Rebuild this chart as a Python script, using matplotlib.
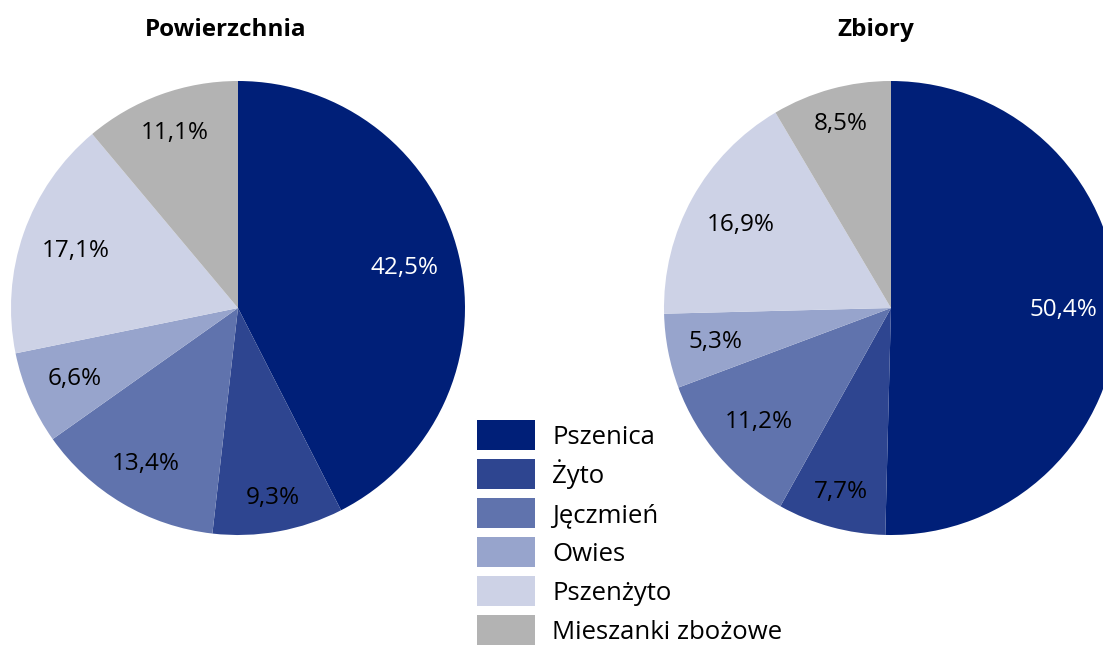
import numpy as np
import matplotlib
matplotlib.use('Agg')
from matplotlib import pyplot as plt

plt.rcParams['font.family'] = ['Open Sans', 'DejaVu Sans']

categories = ['Pszenica', 'Żyto', 'Jęczmień', 'Owies', 'Pszenżyto', 'Mieszanki zbożowe']
area_share = [42.5, 9.3, 13.4, 6.6, 17.1, 11.1]
harvest_share = [50.4, 7.7, 11.2, 5.3, 16.9, 8.5]
titles = ['Powierzchnia', 'Zbiory']

COLORS = ['#001f78', '#2e4590', '#6073ad', '#97a4cc', '#cdd2e6', '#b3b3b3']
TEXT_COLORS = ['white', 'black', 'black', 'black', 'black', 'black']

W, H = 1103, 645
R_PX = 227


def pct_label(v):
    return f'{v:.1f}%'.replace('.', ',')


def draw_pie(ax, values):
    wedges, _ = ax.pie(values, colors=COLORS, startangle=90, counterclock=False,
                       radius=1.0, wedgeprops=dict(linewidth=0))
    ax.set_xlim(-1, 1)
    ax.set_ylim(-1, 1)
    ax.set_aspect('equal')
    ax.axis('off')
    # labels placed inside, pushed toward the rim (like Excel "best fit")
    cum = np.cumsum([0] + list(values))
    for i, v in enumerate(values):
        mid = (cum[i] + cum[i + 1]) / 2 / 100 * 2 * np.pi
        ux, uy = np.sin(mid), np.cos(mid)
        txt = pct_label(v)
        half_w = 7.2 * len(txt)
        half_h = 11
        r = (R_PX - 18 - (half_w * abs(ux) + half_h * abs(uy))) / R_PX
        ax.text(r * ux, r * uy, txt, ha='center', va='center', fontsize=17.5,
                color=TEXT_COLORS[i])
    return wedges


fig = plt.figure(figsize=(W / 100, H / 100), dpi=100)

ax1 = fig.add_axes([11 / W, (H - 535) / H, 454 / W, 454 / H])
ax2 = fig.add_axes([664 / W, (H - 535) / H, 454 / W, 454 / H])

wedges = draw_pie(ax1, area_share)
draw_pie(ax2, harvest_share)

fig.text(226 / W, 1 - 30 / H, titles[0], ha='center', va='center',
         fontsize=17.5, fontweight='bold')
fig.text(876 / W, 1 - 30 / H, titles[1], ha='center', va='center',
         fontsize=17.5, fontweight='bold')

fig.legend(wedges, categories, loc='upper left',
           bbox_to_anchor=(477 / W, 1 - 420 / H), frameon=False,
           fontsize=18.5, borderpad=0, borderaxespad=0,
           handlelength=2.26, handleheight=1.42, handletextpad=0.66,
           labelspacing=0.35)

fig.savefig('out.png', dpi=100)
